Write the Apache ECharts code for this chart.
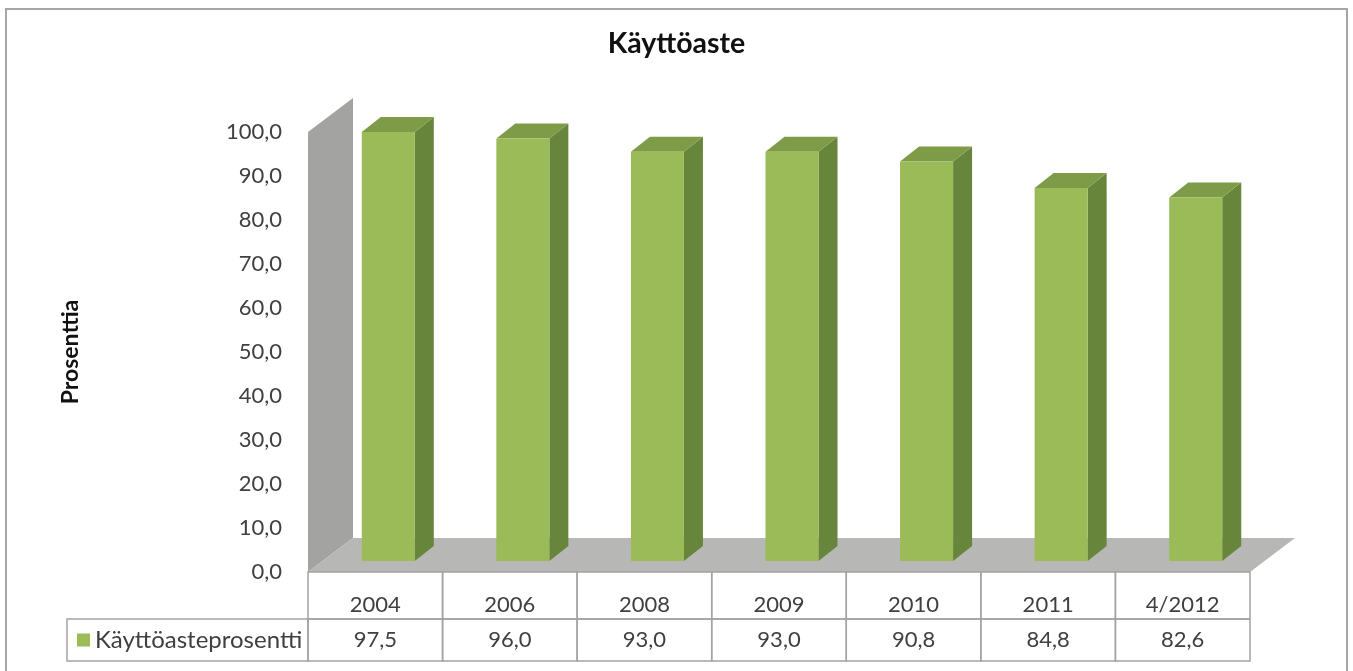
<!DOCTYPE html>
<html>
<head>
<meta charset="utf-8">
<title>Käyttöaste</title>
<script src="https://cdn.jsdelivr.net/npm/echarts@6/dist/echarts.min.js"></script>
<style>
  html, body { margin: 0; padding: 0; background: #ffffff; }
  #chart { width: 1353px; height: 671px; }
</style>
</head>
<body>
<div id="chart"></div>
<script>
// Occupancy rate by year
const categories = ['2004', '2006', '2008', '2009', '2010', '2011', '4/2012'];
const rates = [97.5, 96.0, 93.0, 93.0, 90.8, 84.8, 82.6];
const seriesName = 'Käyttöasteprosentti';
const yTicks = { min: 0, max: 100, interval: 10 };

const FONT = 'Lato, "Noto Sans", sans-serif';
const TEXT = '#404040';
const LINE = '#a3a3a3';
const NUM_SIZE = 22;

// depth of the back wall / floor, in pixels
const DEPTH = [45, -34];
// offset of a bar's front face from the front plane, and the bar's own depth
const BAR_OFFSET = [13, -11];
const BAR_DEPTH = [19, -15];

const fmt = v => v.toFixed(1).replace('.', ',');

const chart = echarts.init(document.getElementById('chart'));

function renderBackdrop(params, api) {
  const cs = params.coordSys;
  const x0 = cs.x, x1 = cs.x + cs.width;
  const yb = cs.y + cs.height, yt = cs.y;
  const [dx, dy] = DEPTH;
  return {
    type: 'group',
    children: [
      { type: 'polygon', shape: { points: [[x0, yb], [x0, yt], [x0 + dx, yt + dy], [x0 + dx, yb + dy]] },
        style: { fill: '#a3a3a1' } },
      { type: 'polygon', shape: { points: [[x0, yb], [x1, yb], [x1 + dx, yb + dy], [x0 + dx, yb + dy]] },
        style: { fill: '#b7b7b5' } }
    ]
  };
}

function renderBar(params, api) {
  const i = api.value(0), v = api.value(1);
  const base = api.coord([i, 0]);
  const top = api.coord([i, v]);
  const band = api.size([1, 0])[0];
  const w = band * 0.394;
  const x0 = base[0] - w / 2 + BAR_OFFSET[0];
  const x1 = x0 + w;
  const yb = base[1] + BAR_OFFSET[1];
  const yt = top[1] + BAR_OFFSET[1];
  const [dx, dy] = BAR_DEPTH;
  return {
    type: 'group',
    children: [
      { type: 'polygon', shape: { points: [[x1, yt], [x1 + dx, yt + dy], [x1 + dx, yb + dy], [x1, yb]] },
        style: { fill: '#68863b' } },
      { type: 'polygon', shape: { points: [[x0, yt], [x1, yt], [x1 + dx, yt + dy], [x0 + dx, yt + dy]] },
        style: { fill: '#7e9c47' } },
      { type: 'rect', shape: { x: x0, y: yt, width: w, height: yb - yt },
        style: { fill: '#9bbb59' } }
    ]
  };
}

function renderTableCell(params, api) {
  const i = api.value(0), v = api.value(1);
  const base = api.coord([i, 0]);
  const band = api.size([1, 0])[0];
  const xl = base[0] - band / 2;
  const y0 = base[1], y1 = y0 + 47, y2 = y1 + 42;
  const children = [
    { type: 'rect', shape: { x: xl, y: y0, width: band, height: y1 - y0 },
      style: { fill: 'none', stroke: LINE, lineWidth: 1.5 } },
    { type: 'rect', shape: { x: xl, y: y1, width: band, height: y2 - y1 },
      style: { fill: 'none', stroke: LINE, lineWidth: 1.5 } },
    { type: 'text', x: base[0], y: y0 + 33,
      style: { text: categories[i], fill: TEXT, font: NUM_SIZE + 'px ' + FONT, align: 'center', verticalAlign: 'middle' } },
    { type: 'text', x: base[0], y: (y1 + y2) / 2,
      style: { text: fmt(v), fill: TEXT, font: NUM_SIZE + 'px ' + FONT, align: 'center', verticalAlign: 'middle' } }
  ];
  if (i === 0) {
    // legend key cell at the left of the value row
    children.push({ type: 'rect', shape: { x: 67, y: y1, width: xl - 67, height: y2 - y1 },
      style: { fill: 'none', stroke: LINE, lineWidth: 1.5 } });
  }
  return { type: 'group', children };
}

const barData = rates.map((v, i) => [i, v]);

chart.setOption({
  animation: false,
  backgroundColor: '#ffffff',
  title: {
    text: 'Käyttöaste',
    left: 'center',
    top: 29,
    padding: 0,
    textStyle: { fontFamily: FONT, fontSize: 28.5, fontWeight: 'bold', color: '#111111' }
  },
  legend: {
    data: [seriesName],
    left: 77,
    top: 627,
    padding: 0,
    icon: 'rect',
    itemWidth: 13,
    itemHeight: 13,
    selectedMode: false,
    textStyle: { fontFamily: FONT, fontSize: 24, color: TEXT, lineHeight: 26 }
  },
  graphic: [
    { type: 'rect', z: -10, shape: { x: 6, y: 9, width: 1341, height: 700 },
      style: { fill: 'none', stroke: '#a6a6a6', lineWidth: 2 } }
  ],
  grid: { left: 308, right: 103, top: 132, bottom: 99 },
  xAxis: {
    type: 'category',
    data: categories,
    axisLine: { show: false },
    axisTick: { show: false },
    axisLabel: { show: false },
    splitLine: { show: false }
  },
  yAxis: {
    type: 'value',
    min: yTicks.min,
    max: yTicks.max,
    interval: yTicks.interval,
    name: 'Prosenttia',
    nameLocation: 'middle',
    nameRotate: 90,
    nameGap: 226,
    nameTextStyle: { fontFamily: FONT, fontSize: 23, fontWeight: 'bold', color: '#111111' },
    axisLine: { show: false },
    axisTick: { show: false },
    splitLine: { show: false },
    axisLabel: { margin: 26, formatter: fmt, fontFamily: FONT, fontSize: NUM_SIZE, color: TEXT }
  },
  series: [
    { type: 'custom', name: 'backdrop', silent: true, clip: false, z: 1,
      renderItem: renderBackdrop, data: [[0, 0]] },
    { type: 'custom', name: seriesName, silent: true, clip: false, z: 2,
      itemStyle: { color: '#9bbb59' },
      renderItem: renderBar, data: barData },
    { type: 'custom', name: 'table', silent: true, clip: false, z: 3,
      renderItem: renderTableCell, data: barData }
  ]
});
</script>
</body>
</html>
